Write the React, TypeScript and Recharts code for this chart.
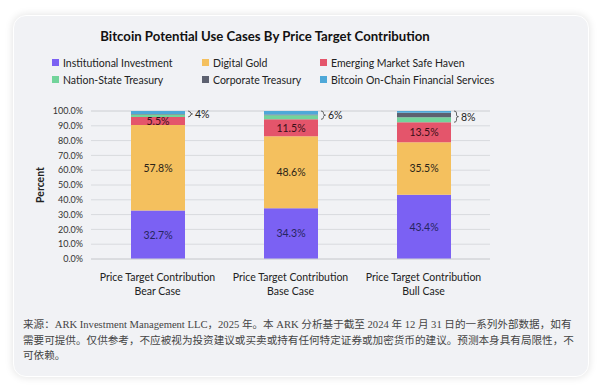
import React from 'react';
import { BarChart, Bar, XAxis, YAxis, CartesianGrid, LabelList } from 'recharts';

const categories = ['Bear Case', 'Base Case', 'Bull Case'];
const categoryPrefix = 'Price Target Contribution';
const institutional = [32.7, 34.3, 43.4];
const digitalGold = [57.8, 48.6, 35.5];
const emergingMarket = [5.5, 11.5, 13.5];
const nationState = [1.6, 2.8, 3.4];
const corporate = [0.4, 0.4, 3.0];
const onChain = [2.0, 2.4, 1.2];
const otherLabels = ['4%', '6%', '8%'];
const otherValues = [4.0, 5.6, 7.6];
const yTicks = [0, 10, 20, 30, 40, 50, 60, 70, 80, 90, 100];

const seriesNames = [
  'Institutional Investment',
  'Digital Gold',
  'Emerging Market Safe Haven',
  'Nation-State Treasury',
  'Corporate Treasury',
  'Bitcoin On-Chain Financial Services',
];
const seriesColors = ['#7b61f3', '#f4c05e', '#e4556b', '#72d49b', '#5d6170', '#4ea8d8'];

const data = categories.map((c, i) => ({
  name: c,
  s0: institutional[i],
  s1: digitalGold[i],
  s2: emergingMarket[i],
  s3: nationState[i],
  s4: corporate[i],
  s5: onChain[i],
  other: otherValues[i],
  otherLabel: otherLabels[i],
}));

const FONT = "Lato, 'Noto Sans', sans-serif";

const XTick = (props: any) => {
  const { x, y, payload } = props;
  return (
    <text x={x} y={y} textAnchor="middle" fontFamily={FONT} fontSize={10.5} fill="#222">
      <tspan x={x} dy={14}>{categoryPrefix}</tspan>
      <tspan x={x} dy={13.5}>{payload.value}</tspan>
    </text>
  );
};

const Bracket = (props: any) => {
  const { x, y, width, height, value, index } = props;
  if (!value) return null;
  const scale = height / value;
  const bottom = y;
  const top = y - data[index].other * scale;
  const x0 = x + width + 3;
  const mid = (top + bottom) / 2;
  const d = `M ${x0} ${top} Q ${x0 + 2.5} ${top} ${x0 + 2.5} ${top + 2} L ${x0 + 2.5} ${mid - 1.5} Q ${x0 + 2.5} ${mid} ${x0 + 4.5} ${mid} Q ${x0 + 2.5} ${mid} ${x0 + 2.5} ${mid + 1.5} L ${x0 + 2.5} ${bottom - 2} Q ${x0 + 2.5} ${bottom} ${x0} ${bottom}`;
  return (
    <g>
      <path d={d} stroke="#555" strokeWidth={0.9} fill="none" />
      <text x={x0 + 7} y={mid + 4} fontFamily={FONT} fontSize={10.5} fill="#222">
        {data[index].otherLabel}
      </text>
    </g>
  );
};

const LegendBlock = () => (
  <div
    style={{
      position: 'absolute',
      left: 52,
      top: 56,
      display: 'grid',
      gridTemplateColumns: '150px 118px 220px',
      rowGap: 4,
      fontFamily: FONT,
      fontSize: 10.5,
      color: '#222',
    }}
  >
    {seriesNames.map((n, i) => (
      <div key={n} style={{ display: 'flex', alignItems: 'center', height: 13, whiteSpace: 'nowrap' }}>
        <span
          style={{ width: 7, height: 7, background: seriesColors[i], display: 'inline-block', marginRight: 4 }}
        />
        <span>{n}</span>
      </div>
    ))}
  </div>
);

export default function App() {
  return (
    <div style={{ position: 'absolute', left: 0, top: 0, width: 600, height: 390, background: '#ffffff', overflow: 'hidden' }}>
      <div
        style={{
          position: 'absolute',
          left: 13,
          top: 15,
          width: 574,
          height: 360,
          background: '#f1f2f5',
          borderRadius: 13,
          border: '1px solid #ffffff',
          boxShadow: '0 0 8px rgba(0,0,0,0.12)',
        }}
      />
      <div
        style={{
          position: 'absolute',
          left: 0,
          top: 28,
          width: 530,
          textAlign: 'center',
          fontFamily: FONT,
          fontWeight: 700,
          fontSize: 13.2,
          color: '#111',
          whiteSpace: 'nowrap',
        }}
      >
        Bitcoin Potential Use Cases By Price Target Contribution
      </div>
      <LegendBlock />
      <div style={{ position: 'absolute', left: 0, top: 0 }}>
        <BarChart
          width={600}
          height={390}
          data={data}
          margin={{ top: 111, right: 110, bottom: 91, left: 30 }}
          barSize={54}
        >
          <CartesianGrid vertical={false} stroke="#d8dade" strokeWidth={1} />
          <XAxis
            dataKey="name"
            tick={<XTick />}
            tickLine={false}
            axisLine={{ stroke: '#d0d2d6' }}
            height={40}
            interval={0}
          />
          <YAxis
            domain={[0, 100]}
            ticks={yTicks}
            tickFormatter={(v: number) => `${v.toFixed(1)}%`}
            tick={{ fontFamily: FONT, fontSize: 9, fill: '#333' }}
            tickLine={false}
            axisLine={false}
            width={61}
            interval={0}
            label={{
              value: 'Percent',
              angle: -90,
              position: 'insideLeft',
              offset: 10,
              style: { fontFamily: FONT, fontWeight: 700, fontSize: 10.5, fill: '#222', textAnchor: 'middle' },
            }}
          />
          <Bar dataKey="s0" name={seriesNames[0]} stackId="a" fill={seriesColors[0]} isAnimationActive={false}>
            <LabelList dataKey="s0" position="center" formatter={(v: any) => `${v}%`} style={{ fontFamily: FONT, fontSize: 10.5, fill: '#262560' }} />
          </Bar>
          <Bar dataKey="s1" name={seriesNames[1]} stackId="a" fill={seriesColors[1]} isAnimationActive={false}>
            <LabelList dataKey="s1" position="center" formatter={(v: any) => `${v}%`} style={{ fontFamily: FONT, fontSize: 10.5, fill: '#2a2418' }} />
          </Bar>
          <Bar dataKey="s2" name={seriesNames[2]} stackId="a" fill={seriesColors[2]} isAnimationActive={false}>
            <LabelList dataKey="s2" position="center" formatter={(v: any) => `${v}%`} style={{ fontFamily: FONT, fontSize: 10.5, fill: '#3a1018' }} />
            <LabelList dataKey="s2" content={<Bracket />} />
          </Bar>
          <Bar dataKey="s3" name={seriesNames[3]} stackId="a" fill={seriesColors[3]} isAnimationActive={false} />
          <Bar dataKey="s4" name={seriesNames[4]} stackId="a" fill={seriesColors[4]} isAnimationActive={false} />
          <Bar dataKey="s5" name={seriesNames[5]} stackId="a" fill={seriesColors[5]} isAnimationActive={false} />
        </BarChart>
      </div>
      <div
        style={{
          position: 'absolute',
          left: 23,
          top: 317,
          width: 560,
          fontFamily: "'Liberation Serif', 'Noto Sans CJK SC', serif",
          fontSize: 10.6,
          lineHeight: '15.5px',
          color: '#444',
          whiteSpace: 'nowrap',
        }}
      >
        来源：ARK Investment Management LLC，2025 年。本 ARK 分析基于截至 2024 年 12 月 31 日的一系列外部数据，如有
        <br />
        需要可提供。仅供参考，不应被视为投资建议或买卖或持有任何特定证券或加密货币的建议。预测本身具有局限性，不
        <br />
        可依赖。
      </div>
    </div>
  );
}
